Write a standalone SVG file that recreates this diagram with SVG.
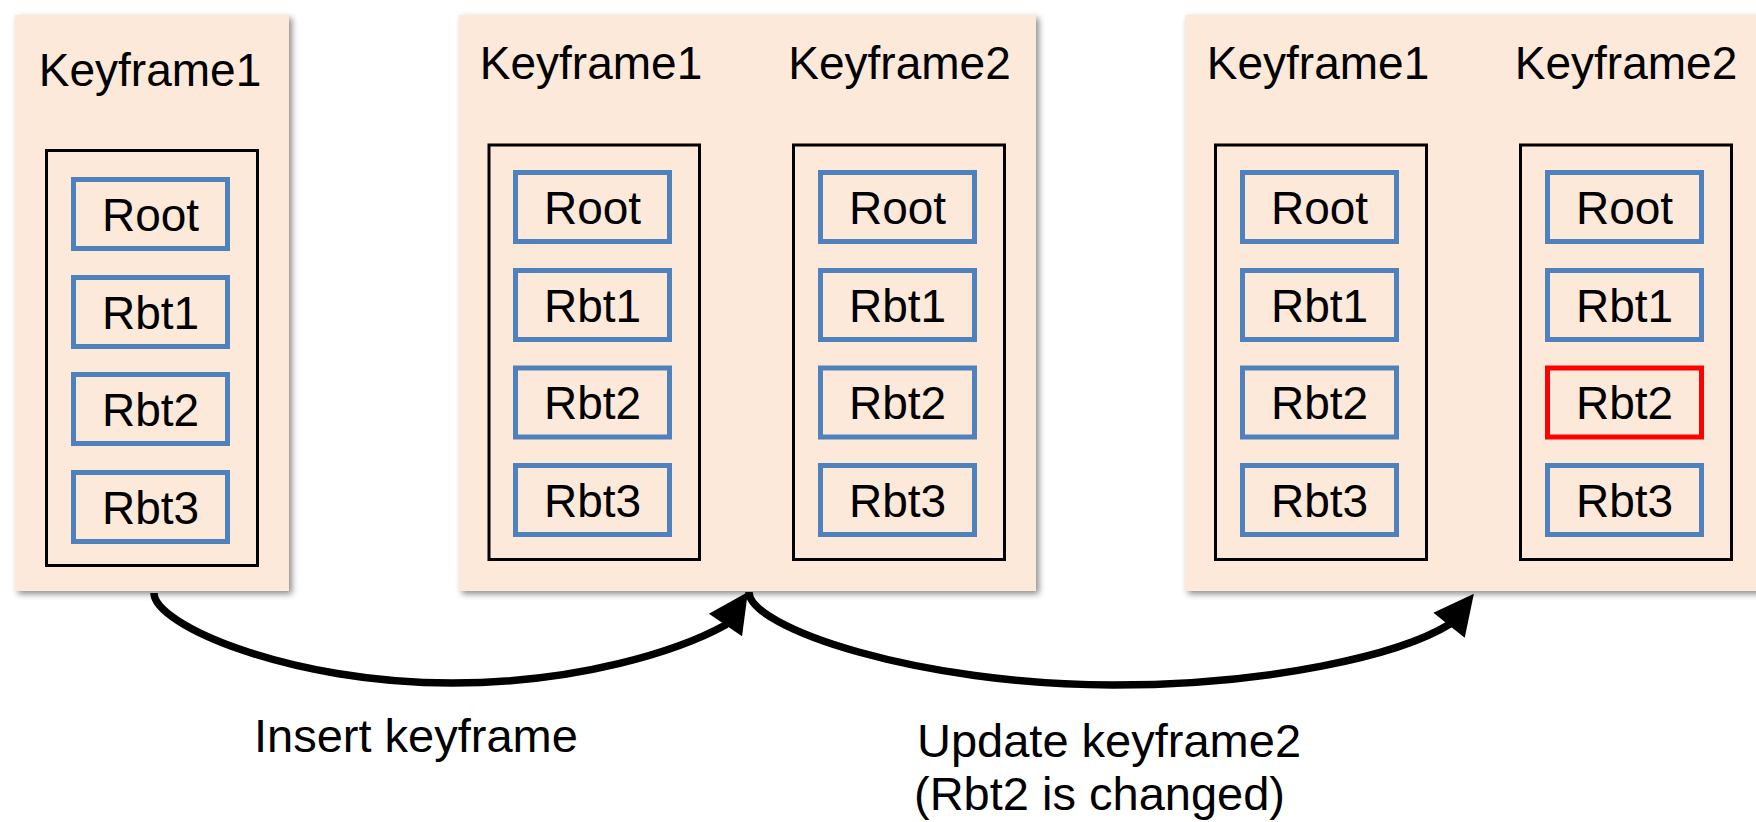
<svg xmlns="http://www.w3.org/2000/svg" width="1756" height="822" viewBox="0 0 1756 822">
  <style>
    .panel { fill: #fde9d9; filter: url(#shadow); }
    .frame { fill: none; stroke: #000; stroke-width: 3; }
    .cell { fill: none; stroke: #4f81bd; stroke-width: 5; }
    .cell.changed { stroke: #ff0000; }
    .title, .label, .caption { font-family: "Liberation Sans", Arial, sans-serif; fill: #000; }
    .title, .label { font-size: 46px; text-anchor: middle; }
    .caption { font-size: 47px; }
    .flow { fill: none; stroke: #000; stroke-width: 7.5; stroke-linejoin: round; marker-end: url(#head); }
  </style>
  <defs>
    <filter id="shadow" x="-10%" y="-10%" width="125%" height="125%">
      <feDropShadow dx="3" dy="3" stdDeviation="3" flood-color="#000" flood-opacity="0.45"/>
    </filter>
    <marker id="head" markerUnits="userSpaceOnUse" orient="auto" viewBox="-14 -22 44 44" markerWidth="44" markerHeight="44" refX="0" refY="0" overflow="visible">
      <path d="M28,0 L-12,-20 L-12,20 Z" fill="#000"/>
    </marker>
  </defs>

  <rect width="1756" height="822" fill="#fff"/>

  <!-- State 1: a single keyframe -->
  <g id="state1">
    <rect class="panel" x="15" y="15" width="274" height="576"/>
    <g id="s1-kf1">
      <text class="title" x="150" y="86">Keyframe1</text>
      <rect class="frame" x="46.5" y="150.5" width="211" height="415"/>
      <g id="s1-kf1-root"><rect class="cell" x="73.5" y="179.5" width="154" height="69"/><text class="label" x="150.5" y="230.5">Root</text></g>
      <g id="s1-kf1-rbt1"><rect class="cell" x="73.5" y="277.5" width="154" height="69"/><text class="label" x="150.5" y="328.5">Rbt1</text></g>
      <g id="s1-kf1-rbt2"><rect class="cell" x="73.5" y="374.5" width="154" height="69"/><text class="label" x="150.5" y="425.5">Rbt2</text></g>
      <g id="s1-kf1-rbt3"><rect class="cell" x="73.5" y="472.5" width="154" height="69"/><text class="label" x="150.5" y="523.5">Rbt3</text></g>
    </g>
  </g>

  <!-- State 2: keyframe2 inserted -->
  <g id="state2">
    <rect class="panel" x="459" y="15" width="577" height="576"/>
    <g id="s2-kf1">
      <text class="title" x="591" y="79">Keyframe1</text>
      <rect class="frame" x="489" y="145" width="210.5" height="414.5"/>
      <g id="s2-kf1-root"><rect class="cell" x="515.5" y="172.5" width="154" height="69"/><text class="label" x="592.5" y="223.5">Root</text></g>
      <g id="s2-kf1-rbt1"><rect class="cell" x="515.5" y="270.5" width="154" height="69"/><text class="label" x="592.5" y="321.5">Rbt1</text></g>
      <g id="s2-kf1-rbt2"><rect class="cell" x="515.5" y="368" width="154" height="69"/><text class="label" x="592.5" y="419">Rbt2</text></g>
      <g id="s2-kf1-rbt3"><rect class="cell" x="515.5" y="465.5" width="154" height="69"/><text class="label" x="592.5" y="516.5">Rbt3</text></g>
    </g>
    <g id="s2-kf2">
      <text class="title" x="899.5" y="79">Keyframe2</text>
      <rect class="frame" x="793.5" y="145" width="211" height="414.5"/>
      <g id="s2-kf2-root"><rect class="cell" x="820.5" y="172.5" width="154" height="69"/><text class="label" x="897.5" y="223.5">Root</text></g>
      <g id="s2-kf2-rbt1"><rect class="cell" x="820.5" y="270.5" width="154" height="69"/><text class="label" x="897.5" y="321.5">Rbt1</text></g>
      <g id="s2-kf2-rbt2"><rect class="cell" x="820.5" y="368" width="154" height="69"/><text class="label" x="897.5" y="419">Rbt2</text></g>
      <g id="s2-kf2-rbt3"><rect class="cell" x="820.5" y="465.5" width="154" height="69"/><text class="label" x="897.5" y="516.5">Rbt3</text></g>
    </g>
  </g>

  <!-- State 3: keyframe2 updated, Rbt2 changed -->
  <g id="state3">
    <rect class="panel" x="1185" y="15" width="590" height="576"/>
    <g id="s3-kf1">
      <text class="title" x="1318" y="79">Keyframe1</text>
      <rect class="frame" x="1215.5" y="145" width="211" height="414.5"/>
      <g id="s3-kf1-root"><rect class="cell" x="1242.5" y="172.5" width="154" height="69"/><text class="label" x="1319.5" y="223.5">Root</text></g>
      <g id="s3-kf1-rbt1"><rect class="cell" x="1242.5" y="270.5" width="154" height="69"/><text class="label" x="1319.5" y="321.5">Rbt1</text></g>
      <g id="s3-kf1-rbt2"><rect class="cell" x="1242.5" y="368" width="154" height="69"/><text class="label" x="1319.5" y="419">Rbt2</text></g>
      <g id="s3-kf1-rbt3"><rect class="cell" x="1242.5" y="465.5" width="154" height="69"/><text class="label" x="1319.5" y="516.5">Rbt3</text></g>
    </g>
    <g id="s3-kf2">
      <text class="title" x="1626" y="79">Keyframe2</text>
      <rect class="frame" x="1520.5" y="145" width="211" height="414.5"/>
      <g id="s3-kf2-root"><rect class="cell" x="1547.5" y="172.5" width="154" height="69"/><text class="label" x="1624.5" y="223.5">Root</text></g>
      <g id="s3-kf2-rbt1"><rect class="cell" x="1547.5" y="270.5" width="154" height="69"/><text class="label" x="1624.5" y="321.5">Rbt1</text></g>
      <g id="s3-kf2-rbt2"><rect class="cell changed" x="1547.5" y="368" width="154" height="69"/><text class="label" x="1624.5" y="419">Rbt2</text></g>
      <g id="s3-kf2-rbt3"><rect class="cell" x="1547.5" y="465.5" width="154" height="69"/><text class="label" x="1624.5" y="516.5">Rbt3</text></g>
    </g>
  </g>

  <!-- Transitions between states -->
  <g id="connectors">
    <path id="insert-arrow" class="flow" d="M154,593 C154,625 290,683 452,683 C580,683 680,650 725.5,625 L732.2,615.1"/>
    <path id="update-arrow" class="flow" d="M749,592 C749,628 920,685 1113,685 C1270,685 1400,655 1450,624 L1456.5,615.8"/>
    <text class="caption" x="254" y="752">Insert keyframe</text>
    <text class="caption" x="917" y="757">Update keyframe2</text>
    <text class="caption" x="914" y="810">(Rbt2 is changed)</text>
  </g>
</svg>
